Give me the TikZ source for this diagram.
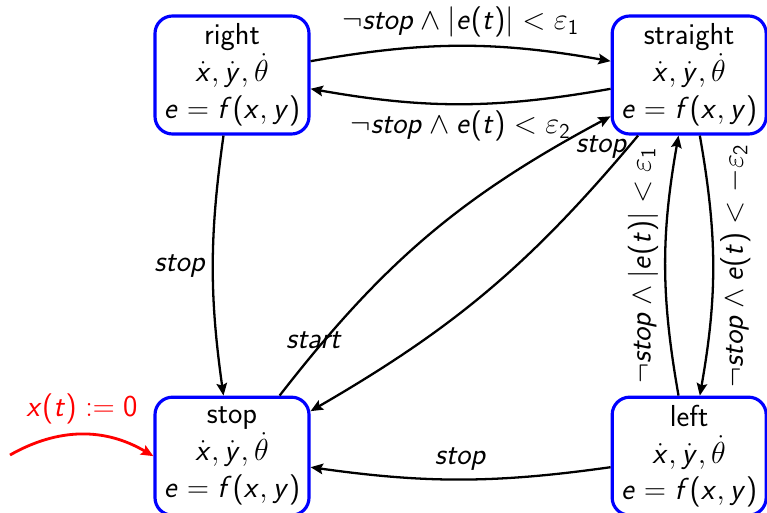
\documentclass[tikz,border=0pt]{standalone}
\usetikzlibrary{positioning,arrows.meta}
% sans serif math letters and digits
\DeclareSymbolFont{sfletters}{OT1}{cmss}{m}{sl}
\DeclareSymbolFont{sfops}{OT1}{cmss}{m}{n}
\DeclareMathSymbol{a}{\mathalpha}{sfletters}{`a}
\DeclareMathSymbol{e}{\mathalpha}{sfletters}{`e}
\DeclareMathSymbol{f}{\mathalpha}{sfletters}{`f}
\DeclareMathSymbol{o}{\mathalpha}{sfletters}{`o}
\DeclareMathSymbol{p}{\mathalpha}{sfletters}{`p}
\DeclareMathSymbol{r}{\mathalpha}{sfletters}{`r}
\DeclareMathSymbol{s}{\mathalpha}{sfletters}{`s}
\DeclareMathSymbol{t}{\mathalpha}{sfletters}{`t}
\DeclareMathSymbol{x}{\mathalpha}{sfletters}{`x}
\DeclareMathSymbol{y}{\mathalpha}{sfletters}{`y}
\DeclareMathSymbol{0}{\mathalpha}{sfops}{`0}
\DeclareMathSymbol{1}{\mathalpha}{sfops}{`1}
\DeclareMathSymbol{2}{\mathalpha}{sfops}{`2}
\DeclareMathSymbol{(}{\mathopen}{sfops}{`(}
\DeclareMathSymbol{)}{\mathclose}{sfops}{`)}

\begin{document}
\begin{tikzpicture}[
                every node/.style={font=\fontsize{17.28}{21}\selectfont\sffamily},
                state/.style={rectangle, rounded corners=0.35cm, draw=blue, line width=1.8pt,
                  align=center, minimum width=3.08cm, minimum height=2.36cm, inner sep=1pt},
                trans/.style={-{Stealth[length=7pt,width=6pt,inset=1.2pt]}, line width=1.3pt},
                node distance=5.2cm and 6cm
                ]
                \useasboundingbox (0,0) rectangle (15.34,10.24);
                % Define the nodes
                \node[state] (rgt) at (4.64,8.74) {right\\$\dot x, \dot y, \dot\theta$\\$e = f(x,y)$};
                \node[state] (str) [right=of rgt] {straight\\$\dot x, \dot y, \dot\theta$\\$e = f(x,y)$};
                \node[state] (stp) [below=of rgt] {stop\\$\dot x, \dot y, \dot\theta$\\$e = f(x,y)$};
                \node[state] (lft) [right=of stp] {left\\$\dot x, \dot y, \dot\theta$\\$e = f(x,y)$};
                \coordinate (init) at (0.2,1.14);

                % Draw the arrows
                \draw[trans] (rgt) to[bend left=10] node[above, yshift=1pt] {$\neg stop \wedge |e(t)| < \varepsilon_1$} (str);
                \draw[trans] (str) to[bend left=10] node[below] {$\neg stop \wedge e(t) < \varepsilon_2$} (rgt);
                \draw[trans] (rgt) to[bend right=8] node[left] {$stop$} (stp);
                \draw[trans] (stp) to[bend left=12] node[pos=0.15, left, xshift=14pt] {$start$} (str);
                \draw[trans] (str) to[bend left=10] node[pos=0.03, left, inner sep=0pt] {$stop$} (stp);
                \draw[trans] (lft) to[bend left=10] node[rotate=90, anchor=south] {$\neg stop \wedge |e(t)| < \varepsilon_1$} (str);
                \draw[trans] (str) to[bend left=10] node[rotate=90, anchor=north] {$\neg stop \wedge e(t) < -\varepsilon_2$} (lft);
                \draw[trans] (lft) to[bend left=8] node[above, yshift=1pt] {$stop$} (stp);
                \draw[trans, red, line width=1.6pt] (init) to[bend left=30] node[above, yshift=2pt] {$x(t) := 0$} (stp.west);
            \end{tikzpicture}
\end{document}
